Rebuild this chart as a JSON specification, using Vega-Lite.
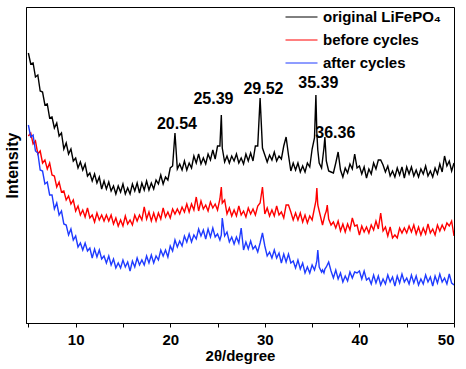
{
"$schema": "https://vega.github.io/schema/vega-lite/v6.json",
"width": 428, "height": 316,
"autosize": "none",
"padding": {"left": 26, "top": 7, "right": 12, "bottom": 46},
"background": "white",
"config": {"view": {"stroke": "black", "strokeWidth": 1}, "font": "Liberation Sans"},
"datasets": {
"xrd": [
{"x":5,"k":270,"r":187,"b":198},{"x":5.25,"k":259,"r":190,"b":186},{"x":5.5,"k":260,"r":179,"b":188},{"x":5.75,"k":246,"r":182,"b":172},
{"x":6,"k":248,"r":169,"b":170},{"x":6.25,"k":232,"r":172,"b":153},{"x":6.5,"k":231,"r":160,"b":152},{"x":6.75,"k":218,"r":163,"b":139},
{"x":7,"k":219,"r":154,"b":141},{"x":7.25,"k":205,"r":160,"b":128},{"x":7.5,"k":206,"r":148,"b":128},{"x":7.75,"k":195,"r":147,"b":114},
{"x":8,"k":200,"r":136,"b":120},{"x":8.25,"k":187,"r":141,"b":108},{"x":8.5,"k":190,"r":131,"b":112},{"x":8.75,"k":174,"r":132,"b":99},
{"x":9,"k":180,"r":123,"b":98},{"x":9.25,"k":169,"r":127,"b":88},{"x":9.5,"k":174,"r":119,"b":94},{"x":9.75,"k":162,"r":123,"b":83},
{"x":10,"k":165,"r":112,"b":87},{"x":10.25,"k":155,"r":117,"b":76},{"x":10.5,"k":161,"r":108,"b":80},{"x":10.75,"k":153,"r":113,"b":73},
{"x":11,"k":159,"r":106,"b":80},{"x":11.25,"k":147,"r":115,"b":72},{"x":11.5,"k":150,"r":105,"b":75},{"x":11.75,"k":142,"r":108,"b":65},
{"x":12,"k":149,"r":101,"b":74},{"x":12.25,"k":140,"r":110,"b":66},{"x":12.5,"k":146,"r":103,"b":73},{"x":12.75,"k":134,"r":108,"b":64},
{"x":13,"k":142,"r":102,"b":67},{"x":13.25,"k":134,"r":108,"b":60},{"x":13.5,"k":141,"r":102,"b":67},{"x":13.75,"k":132,"r":108,"b":58},
{"x":14,"k":137,"r":99,"b":64},{"x":14.25,"k":129,"r":105,"b":55},{"x":14.5,"k":137,"r":97,"b":60},{"x":14.75,"k":131,"r":103,"b":55},
{"x":15,"k":139,"r":97,"b":63},{"x":15.25,"k":129,"r":107,"b":56},{"x":15.5,"k":135,"r":99,"b":61},{"x":15.75,"k":129,"r":103,"b":52},
{"x":16,"k":139,"r":98,"b":62},{"x":16.25,"k":132,"r":108,"b":56},{"x":16.5,"k":140,"r":102,"b":65},{"x":16.75,"k":130,"r":108,"b":58},
{"x":17,"k":140,"r":103,"b":63},{"x":17.25,"k":133,"r":116,"b":58},{"x":17.5,"k":142,"r":104,"b":67},{"x":17.75,"k":133,"r":111,"b":60},
{"x":18,"k":140,"r":102,"b":68},{"x":18.25,"k":134,"r":110,"b":60},{"x":18.5,"k":143,"r":102,"b":67},{"x":18.75,"k":139,"r":110,"b":63},
{"x":19,"k":148,"r":104,"b":73},{"x":19.25,"k":139,"r":115,"b":67},{"x":19.5,"k":146,"r":106,"b":73},{"x":19.75,"k":143,"r":111,"b":66},
{"x":20,"k":155,"r":105,"b":77},{"x":20.25,"k":157,"r":114,"b":72},{"x":20.5,"k":190,"r":109,"b":83},{"x":20.75,"k":154,"r":114,"b":76},
{"x":21,"k":159,"r":109,"b":82},{"x":21.25,"k":153,"r":116,"b":77},{"x":21.5,"k":162,"r":111,"b":87},{"x":21.75,"k":153,"r":119,"b":81},
{"x":22,"k":160,"r":111,"b":89},{"x":22.25,"k":155,"r":119,"b":81},{"x":22.5,"k":167,"r":113,"b":88},{"x":22.75,"k":160,"r":126,"b":84},
{"x":23,"k":169,"r":112,"b":94},{"x":23.25,"k":159,"r":122,"b":87},{"x":23.5,"k":165,"r":114,"b":93},{"x":23.75,"k":159,"r":118,"b":84},
{"x":24,"k":169,"r":112,"b":94},{"x":24.25,"k":163,"r":121,"b":86},{"x":24.5,"k":173,"r":115,"b":95},{"x":24.75,"k":164,"r":119,"b":86},
{"x":25,"k":177,"r":113,"b":89},{"x":25.25,"k":177,"r":124,"b":83},{"x":25.4,"k":208,"r":136,"b":88},{"x":25.5,"k":175,"r":120,"b":105},
{"x":25.75,"k":161,"r":123,"b":87},
{"x":26,"k":167,"r":109,"b":91},{"x":26.25,"k":160,"r":115,"b":81},{"x":26.5,"k":167,"r":107,"b":86},{"x":26.75,"k":162,"r":113,"b":79},
{"x":27,"k":169,"r":107,"b":86},{"x":27.25,"k":160,"r":117,"b":80},{"x":27.5,"k":165,"r":108,"b":95},{"x":27.75,"k":159,"r":112,"b":73},
{"x":28,"k":169,"r":106,"b":81},{"x":28.25,"k":162,"r":115,"b":74},{"x":28.5,"k":170,"r":109,"b":82},{"x":28.75,"k":162,"r":114,"b":74},
{"x":29,"k":177,"r":108,"b":77},{"x":29.25,"k":177,"r":117,"b":71},{"x":29.5,"k":225,"r":120,"b":80},{"x":29.75,"k":175,"r":136,"b":90},
{"x":30,"k":168,"r":109,"b":77},{"x":30.25,"k":161,"r":115,"b":67},{"x":30.5,"k":168,"r":107,"b":71},{"x":30.75,"k":163,"r":113,"b":65},
{"x":31,"k":171,"r":107,"b":73},{"x":31.25,"k":162,"r":117,"b":65},{"x":31.5,"k":167,"r":108,"b":70},{"x":31.75,"k":164,"r":111,"b":60},
{"x":32,"k":177,"r":105,"b":69},{"x":32.25,"k":186,"r":118,"b":61},{"x":32.5,"k":168,"r":118,"b":69},{"x":32.75,"k":152,"r":111,"b":60},
{"x":33,"k":160,"r":103,"b":62},{"x":33.25,"k":153,"r":110,"b":55},{"x":33.5,"k":160,"r":103,"b":63},{"x":33.75,"k":151,"r":110,"b":54},
{"x":34,"k":157,"r":101,"b":60},{"x":34.25,"k":151,"r":108,"b":50},{"x":34.5,"k":160,"r":100,"b":56},{"x":34.75,"k":156,"r":107,"b":50},
{"x":35,"k":174,"r":103,"b":58},{"x":35.25,"k":185,"r":115,"b":53},{"x":35.4,"k":228,"r":122,"b":58},{"x":35.5,"k":190,"r":135,"b":62},
{"x":35.6,"k":173,"r":118,"b":73},{"x":35.75,"k":160,"r":112,"b":56},{"x":36,"k":155,"r":102,"b":51},{"x":36.1,"k":163,"r":98,"b":53},
{"x":36.25,"k":175,"r":104,"b":50},{"x":36.35,"k":186,"r":108,"b":54},{"x":36.5,"k":162,"r":112,"b":56},{"x":36.6,"k":158,"r":118,"b":58},
{"x":36.75,"k":152,"r":104,"b":61},{"x":37,"k":151,"r":98,"b":52},
{"x":37.25,"k":150,"r":101,"b":45},{"x":37.5,"k":160,"r":95,"b":53},{"x":37.75,"k":171,"r":102,"b":44},
{"x":38,"k":153,"r":92,"b":50},{"x":38.25,"k":146,"r":99,"b":41},{"x":38.5,"k":155,"r":91,"b":47},{"x":38.75,"k":150,"r":99,"b":42},
{"x":39,"k":159,"r":93,"b":51},{"x":39.25,"k":154,"r":105,"b":45},{"x":39.5,"k":169,"r":97,"b":51},{"x":39.75,"k":155,"r":98,"b":50},
{"x":40,"k":157,"r":88,"b":52},{"x":40.25,"k":149,"r":97,"b":44},{"x":40.5,"k":156,"r":91,"b":52},{"x":40.75,"k":145,"r":96,"b":43},
{"x":41,"k":154,"r":90,"b":45},{"x":41.25,"k":149,"r":98,"b":39},{"x":41.5,"k":160,"r":93,"b":48},{"x":41.75,"k":154,"r":102,"b":40},
{"x":42,"k":163,"r":94,"b":47},{"x":42.25,"k":163,"r":110,"b":38},{"x":42.5,"k":158,"r":92,"b":44},{"x":42.75,"k":151,"r":96,"b":39},
{"x":43,"k":157,"r":87,"b":48},{"x":43.25,"k":147,"r":96,"b":41},{"x":43.5,"k":152,"r":85,"b":46},{"x":43.75,"k":146,"r":88,"b":37},
{"x":44,"k":155,"r":85,"b":47},{"x":44.25,"k":148,"r":95,"b":40},{"x":44.5,"k":156,"r":90,"b":49},{"x":44.75,"k":145,"r":95,"b":41},
{"x":45,"k":156,"r":90,"b":45},{"x":45.25,"k":149,"r":97,"b":39},{"x":45.5,"k":156,"r":91,"b":48},{"x":45.75,"k":147,"r":98,"b":40},
{"x":46,"k":153,"r":89,"b":47},{"x":46.25,"k":146,"r":96,"b":38},{"x":46.5,"k":154,"r":88,"b":44},{"x":46.75,"k":149,"r":95,"b":39},
{"x":47,"k":157,"r":89,"b":48},{"x":47.25,"k":147,"r":99,"b":41},{"x":47.5,"k":152,"r":90,"b":46},{"x":47.75,"k":146,"r":94,"b":37},
{"x":48,"k":155,"r":88,"b":47},{"x":48.25,"k":149,"r":98,"b":40},{"x":48.5,"k":159,"r":92,"b":49},{"x":48.75,"k":151,"r":98,"b":41},
{"x":49,"k":167,"r":93,"b":45},{"x":49.25,"k":157,"r":100,"b":39},{"x":49.5,"k":162,"r":97,"b":49},{"x":49.75,"k":152,"r":102,"b":40},
{"x":50,"k":160,"r":87,"b":38}
],
"peaks": [
{"x":20.71,"I":199,"label":"20.54"},
{"x":24.57,"I":224,"label":"25.39"},
{"x":29.85,"I":234,"label":"29.52"},
{"x":35.65,"I":240,"label":"35.39"},
{"x":37.45,"I":190,"label":"36.36"}
]
},
"layer": [
{
"data": {"name": "xrd"},
"transform": [{"fold": ["k", "r", "b"], "as": ["series", "I"]}],
"mark": {"type": "line", "strokeWidth": 1.4, "clip": true},
"encoding": {
"x": {"field": "x", "type": "quantitative",
 "scale": {"domain": [4.75, 50], "nice": false, "zero": false},
 "axis": {"values": [5,10,15,20,25,30,35,40,45,50],
  "labelExpr": "datum.value % 10 === 0 ? datum.label : ''",
  "grid": false, "tickSize": 4, "tickColor": "black", "domainColor": "black",
  "labelFont": "Liberation Sans", "labelFontWeight": "bold", "labelFontSize": 15, "labelColor": "black", "labelPadding": 5,
  "title": "2θ/degree", "titleFont": "Liberation Sans", "titleFontWeight": "bold", "titleFontSize": 15, "titleColor": "black", "titlePadding": 1}},
"y": {"field": "I", "type": "quantitative",
 "scale": {"domain": [0, 316], "nice": false, "zero": false},
 "axis": {"labels": false, "ticks": false, "grid": false, "domainColor": "black",
  "title": "Intensity", "titleFont": "Liberation Sans", "titleFontWeight": "bold", "titleFontSize": 16, "titleColor": "black", "titlePadding": 6}},
"color": {"field": "series", "type": "nominal",
 "scale": {"domain": ["k", "r", "b"], "range": ["black", "#ff0000", "#1f3bff"]},
 "legend": {"orient": "none", "legendX": 259, "legendY": 2, "title": null,
  "symbolType": "stroke", "symbolSize": 1024, "symbolStrokeWidth": 1, "clipHeight": 16, "rowPadding": 7, "padding": 0, "labelOffset": 5,
  "labelFont": "Liberation Sans", "labelFontWeight": "bold", "labelFontSize": 15, "labelColor": "black",
  "labelExpr": "datum.value == 'k' ? 'original LiFePO₄' : datum.value == 'r' ? 'before cycles' : 'after cycles'"}}
}
},
{
"data": {"name": "peaks"},
"mark": {"type": "text", "font": "Liberation Sans", "fontWeight": "bold", "fontSize": 16, "color": "black", "align": "center", "baseline": "middle"},
"encoding": {
"x": {"field": "x", "type": "quantitative"},
"y": {"field": "I", "type": "quantitative"},
"text": {"field": "label"}
}
}
]
}
